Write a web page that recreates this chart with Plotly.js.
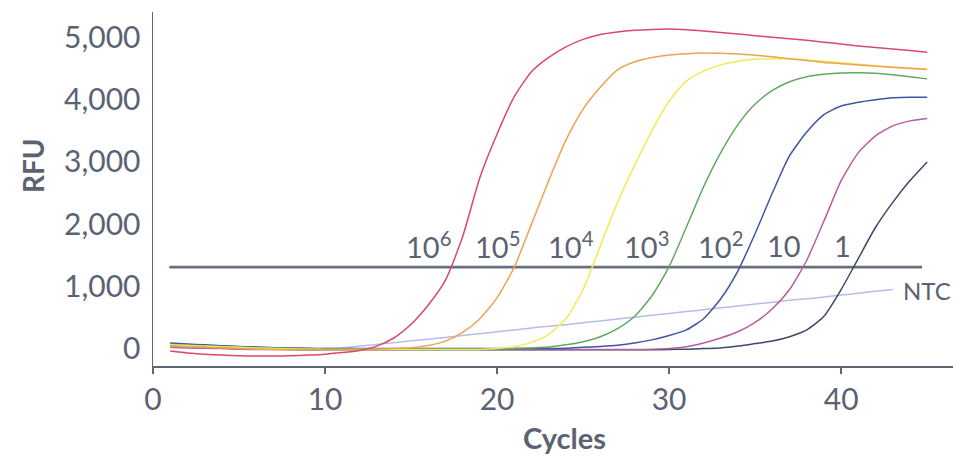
<!DOCTYPE html>
<html>
<head>
<meta charset="utf-8">
<script src="https://cdn.plot.ly/plotly-3.0.1.min.js"></script>
<style>
  html, body { margin: 0; padding: 0; background: #ffffff; }
  #chart { width: 953px; height: 456px; }
</style>
</head>
<body>
<div id="chart"></div>
<script>
// Cycles 1..45
const cycles = [1,2,3,4,5,6,7,8,9,10,11,12,13,14,15,16,17,18,19,20,21,22,23,24,25,26,27,28,29,30,31,32,33,34,35,36,37,38,39,40,41,42,43,44,45];

const rfu_1e6 = [-40,-70,-90,-105,-115,-120,-120,-115,-105,-90, -65,-30,40,170,390,700,1100,1800,2750,3450, 4050,4450,4680,4850,4970,5050,5090,5115,5130,5135, 5125,5105,5080,5055,5030,5005,4980,4955,4925,4895, 4865,4840,4815,4790,4765];
const rfu_1e5 = [40,30,20,10,0,-10,-15,-20,-20,-20, -20,-15,-10,0,15,50,120,260,480,820, 1310,2000,2700,3350,3850,4200,4480,4610,4680,4720, 4740,4750,4745,4735,4715,4690,4660,4630,4600,4580, 4560,4540,4520,4505,4490];
const rfu_1e4 = [60,50,40,30,20,10,0,-5,-10,-15, -15,-15,-15,-15,-15,-15,-15,-15,-15,0, 30,100,230,480,950,1650,2350,2950,3500,3980, 4300,4460,4560,4620,4650,4660,4655,4640,4620,4595, 4570,4545,4520,4500,4480];
const rfu_1e3 = [70,55,45,35,25,15,10,5,0,-5, -5,-5,-5,-5,-5,-5,-5,-5,-5,-5, 0,10,25,60,110,190,320,520,850,1320, 1950,2600,3150,3600,3930,4150,4290,4370,4410,4430, 4435,4425,4400,4370,4335];
const rfu_1e2 = [90,75,60,45,35,25,15,10,5,0, 0,0,0,0,0,0,0,0,0,0, 0,0,0,5,20,35,55,90,140,210, 300,480,800,1250,1850,2500,3100,3480,3760,3900, 3960,4000,4030,4040,4040];
const rfu_10 = [20,10,5,0,-10,-15,-15,-15,-15,-15, -15,-15,-15,-15,-15,-15,-15,-15,-15,-15, -15,-15,-15,-15,-15,-15,-15,-15,-10,0, 30,90,170,270,420,640,950,1420,2050,2700, 3150,3420,3580,3660,3700];
const rfu_1 = [50,40,30,20,10,0,-10,-15,-20,-20, -20,-20,-20,-20,-20,-20,-20,-20,-20,-20, -20,-20,-20,-20,-20,-20,-20,-20,-20,-15, -10,0,10,40,80,120,190,300,520,950, 1450,1950,2350,2700,3000];
const ntcCycles = [1,2,3,4,5,6,7,8,9,10,11,12,13,14,15,16,17,18,19,20,21,22,23,24,25,26,27,28,29,30,31,32,33,34,35,36,37,38,39,40,41,42,43];
const rfu_ntc = [80,65,50,40,30,20,10,5,0,0, 10,40,65,95,125,150,180,210,240,270, 300,330,360,385,415,445,475,505,535,565, 595,625,655,685,715,745,775,800,830,860, 890,920,950];

const thresholdX = [0.95, 44.7];
const thresholdY = [1310, 1310];

// curve labels
const labelText = ['10<sup>6</sup>','10<sup>5</sup>','10<sup>4</sup>','10<sup>3</sup>','10<sup>2</sup>','10','1'];
const labelX = [16.0, 20.0, 24.3, 28.7, 33.0, 36.7, 40.1];
const labelY = 1660;
const ntcLabel = 'NTC';
const ntcLabelX = 43.5;
const ntcLabelY = 940;

const xTicks = [0,10,20,30,40];
const yTicks = [0,1000,2000,3000,4000,5000];
const xTitle = 'Cycles';
const yTitle = 'RFU';

const series = [
  {x: ntcCycles, y: rfu_ntc, color: '#b9bce8', name: 'NTC'},
  {x: cycles, y: rfu_1, color: '#3f4868', name: '1'},
  {x: cycles, y: rfu_10, color: '#b55ea3', name: '10'},
  {x: cycles, y: rfu_1e2, color: '#3e55a2', name: '10^2'},
  {x: cycles, y: rfu_1e3, color: '#62a862', name: '10^3'},
  {x: cycles, y: rfu_1e4, color: '#f1ea55', name: '10^4'},
  {x: cycles, y: rfu_1e5, color: '#eba452', name: '10^5'},
  {x: cycles, y: rfu_1e6, color: '#d8486f', name: '10^6'}
];

const traces = series.map(s => ({
  type: 'scatter', mode: 'lines', x: s.x, y: s.y, name: s.name,
  line: {color: s.color, width: 1.5, shape: 'spline', smoothing: 0.6},
  hoverinfo: 'skip'
}));
traces.unshift({
  type: 'scatter', mode: 'lines', x: thresholdX, y: thresholdY, name: 'threshold',
  line: {color: '#687080', width: 2.6}, hoverinfo: 'skip'
});

const txtColor = '#5b6272';
const annotations = labelText.map((t, i) => ({
  x: labelX[i], y: labelY, xref: 'x', yref: 'y', text: t, showarrow: false,
  xanchor: 'center', yanchor: 'middle',
  font: {family: 'Lato, sans-serif', size: 29, color: txtColor}
}));
annotations.push({
  x: ntcLabelX, y: ntcLabelY, xref: 'x', yref: 'y', text: ntcLabel, showarrow: false,
  xanchor: 'left', yanchor: 'middle',
  font: {family: 'Lato, sans-serif', size: 24, color: txtColor}
});
annotations.push({
  x: 0.514, y: -0.203, xref: 'paper', yref: 'paper', text: '<b>' + xTitle + '</b>', showarrow: false,
  xanchor: 'center', yanchor: 'middle',
  font: {family: 'Lato, sans-serif', size: 29, color: txtColor}
});
annotations.push({
  x: -0.15, y: 0.565, xref: 'paper', yref: 'paper', text: '<b>' + yTitle + '</b>', showarrow: false,
  xanchor: 'center', yanchor: 'middle', textangle: -90,
  font: {family: 'Lato, sans-serif', size: 28, color: txtColor}
});

const layout = {
  width: 953, height: 456,
  margin: {l: 153, r: 0, t: 12, b: 90},
  paper_bgcolor: '#ffffff', plot_bgcolor: '#ffffff',
  showlegend: false,
  font: {family: 'Lato, sans-serif', color: txtColor},
  xaxis: {
    range: [0, 46.5], tickvals: xTicks, ticktext: xTicks.map(String),
    showgrid: false, zeroline: false,
    showline: true, linecolor: '#5f6673', linewidth: 1.5,
    ticks: 'outside', ticklen: 6, tickcolor: '#5f6673', tickwidth: 1.5,
    tickfont: {family: 'Lato, sans-serif', size: 30, color: txtColor}
  },
  yaxis: {
    range: [-280, 5410], tickvals: yTicks, tickformat: ',',
    showgrid: false, zeroline: false,
    showline: true, linecolor: '#5f6673', linewidth: 1.5,
    ticks: 'outside', ticklen: 5, tickcolor: 'rgba(0,0,0,0)',
    tickfont: {family: 'Lato, sans-serif', size: 30, color: txtColor}
  },
  annotations: annotations
};

Plotly.newPlot('chart', traces, layout, {displayModeBar: false, staticPlot: true});
</script>
</body>
</html>
